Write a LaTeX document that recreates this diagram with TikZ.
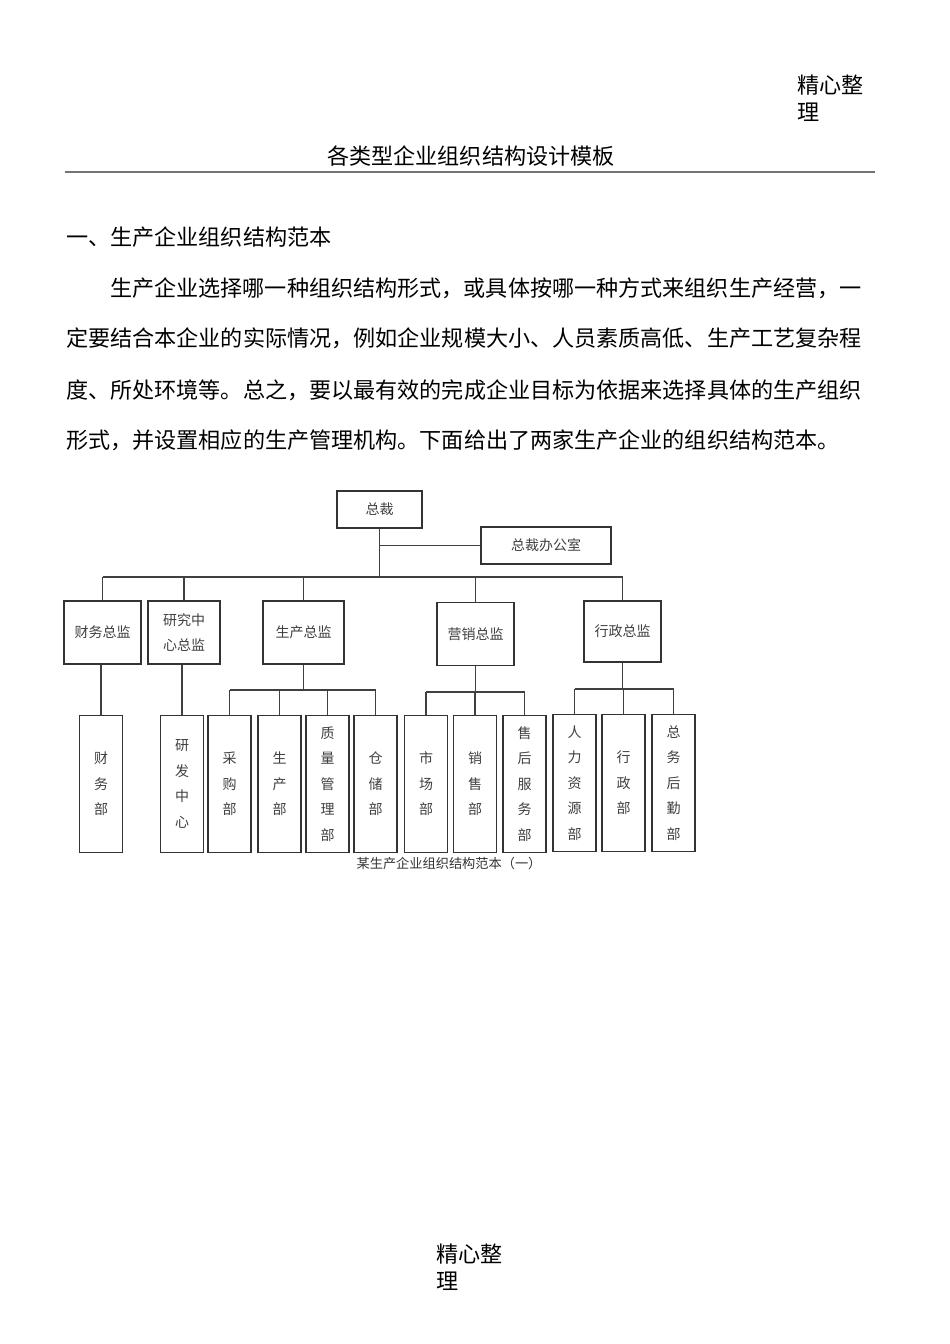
\documentclass[tikz,border=0pt]{standalone}
\usepackage{fontspec}
\setmainfont{Noto Sans CJK SC}
\newcommand{\bodyfont}{\fontsize{22.1}{27}\selectfont}
\newcommand{\chartfont}{\fontsize{14}{25.5}\selectfont}
\begin{document}
\begin{tikzpicture}
  [x=1pt,y=-1pt,
   every node/.style={inner sep=0pt},
   txt/.style={anchor=base west,font=\bodyfont},
   box/.style={draw=black!80,line width=1.1pt,text=black!75,font=\chartfont,align=center},
   top/.style={box,minimum height=37pt},
   lead/.style={box,minimum width=77pt,minimum height=63pt},
   dept/.style={box,minimum width=43pt,minimum height=137pt},
   heavy/.style={line width=1.9pt},
   link/.style={draw=black!75,line width=1.2pt}]

  \useasboundingbox[fill=white] (0,0) rectangle (950,1344);

  % page text
  \node (hd1)[txt] at (797,93) {精心整};
  \node (hd2)[txt] at (797,120) {理};
  \node (title)[font=\bodyfont,anchor=base] at (471,164) {各类型企业组织结构设计模板};
  \draw[draw=black!55,line width=2pt] (65,172) -- (875,172);
  \node (sec)[txt] at (66,245.5) {一、生产企业组织结构范本};
  \node (p1)[txt] at (110,296.5) {生产企业选择哪一种组织结构形式，或具体按哪一种方式来组织生产经营，一};
  \node (p2)[txt] at (66,346.5) {定要结合本企业的实际情况，例如企业规模大小、人员素质高低、生产工艺复杂程};
  \node (p3)[txt] at (66,398) {度、所处环境等。总之，要以最有效的完成企业目标为依据来选择具体的生产组织};
  \node (p4)[txt] at (66,448.5) {形式，并设置相应的生产管理机构。下面给出了两家生产企业的组织结构范本。};

  % chart
  \node (ceo)[top,minimum width=85pt] at (379.5,509.5) {总裁};
  \node (office)[top,minimum width=130pt] at (546,545.5) {总裁办公室};

  \node (fin)[lead] at (102.5,632.5) {财务总监};
  \node (rnd)[lead,minimum width=72pt] at (184,632.5) {研究中\\心总监};
  \node (prod)[lead,minimum width=81pt,heavy] at (303.5,632.5) {生产总监};
  \node (mkt)[lead,heavy] at (475.5,634) {营销总监};
  \node (adm)[lead,minimum height=61pt] at (622.5,631.5) {行政总监};

  \node (fdep)[dept,heavy] at (101,784) {财\\务\\部};
  \node (rdc)[dept,heavy] at (182,784) {研\\发\\中\\心};
  \node (buy)[dept] at (229.5,784) {采\\购\\部};
  \node (make)[dept,heavy] at (279.5,784) {生\\产\\部};
  \node (qa)[dept,heavy] at (327.5,784) {质\\量\\管\\理\\部};
  \node (store)[dept] at (375.5,784) {仓\\储\\部};
  \node (mkd)[dept] at (426,784) {市\\场\\部};
  \node (sale)[dept] at (475,784) {销\\售\\部};
  \node (svc)[dept,heavy] at (524.5,784) {售\\后\\服\\务\\部};
  \node (hr)[dept] at (574.5,783) {人\\力\\资\\源\\部};
  \node (admd)[dept] at (623.5,783) {行\\政\\部};
  \node (log)[dept,heavy] at (673.5,783) {总\\务\\后\\勤\\部};

  \node (cap)[font=\fontsize{13.2}{15}\selectfont,text=black!80] at (449,863) {某生产企业组织结构范本（一）};

  \coordinate (bus) at (379.5,577);
  \coordinate (pbus) at (0,690);
  \coordinate (mbus) at (0,692);
  \coordinate (abus) at (0,689);

  \draw[link] (ceo.south) -- (ceo.south |- bus);
  \draw[link] (ceo.south |- office.west) -- (office.west);
  \draw[link] (fin.north |- bus) -- (adm.north |- bus);
  \foreach \n in {fin,rnd,prod,mkt,adm}
    \draw[link] (\n.north) -- (\n.north |- bus);
  \foreach \up/\down in {fin/fdep,rnd/rdc}
    \draw[link] (\down.north) -- (\down.north |- \up.south);

  \foreach \up/\first/\last/\b in {prod/buy/store/pbus,mkt/mkd/svc/mbus,adm/hr/log/abus}{
    \draw[link] (\up.south) -- (\up.south |- \b);
    \draw[link] (\first.north |- \b) -- (\last.north |- \b);
  }
  \foreach \n/\b in {buy/pbus,make/pbus,qa/pbus,store/pbus,mkd/mbus,sale/mbus,svc/mbus,hr/abus,admd/abus,log/abus}
    \draw[link] (\n.north) -- (\n.north |- \b);

  \node (ft1)[txt] at (436,1262) {精心整};
  \node (ft2)[txt] at (436,1289) {理};
\end{tikzpicture}
\end{document}
